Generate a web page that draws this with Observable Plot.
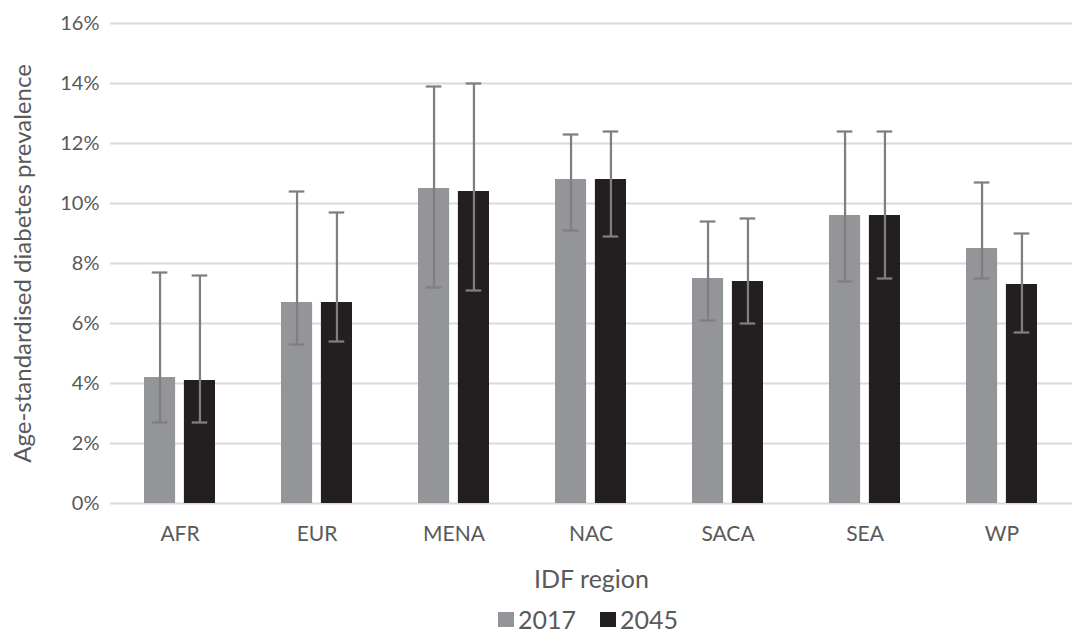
<!DOCTYPE html>
<html>
<head>
<meta charset="utf-8">
<script src="https://cdn.jsdelivr.net/npm/d3@7"></script>
<script src="https://cdn.jsdelivr.net/npm/@observablehq/plot@0.6"></script>
<style>
  html, body { margin: 0; padding: 0; background: #fff; }
  #chart svg { display: block; }
  .legend { display: flex; align-items: center; height: 24px; padding-left: 498px; font-family: Lato, sans-serif; font-size: 25px; line-height: 24px; color: #595959; }
  .legend .sw { width: 16px; height: 15px; margin-right: 4px; }
  .legend .item { display: flex; align-items: center; margin-right: 24px; }
</style>
</head>
<body>
<div id="chart"></div>
<script>
const regions = ["AFR", "EUR", "MENA", "NAC", "SACA", "SEA", "WP"];
const years = ["2017", "2045"];
const prev2017 = [4.2, 6.7, 10.5, 10.8, 7.5, 9.6, 8.5];
const low2017  = [2.7, 5.3, 7.2, 9.1, 6.1, 7.4, 7.5];
const high2017 = [7.7, 10.4, 13.9, 12.3, 9.4, 12.4, 10.7];
const prev2045 = [4.1, 6.7, 10.4, 10.8, 7.4, 9.6, 7.3];
const low2045  = [2.7, 5.4, 7.1, 8.9, 6.0, 7.5, 5.7];
const high2045 = [7.6, 9.7, 14.0, 12.4, 9.5, 12.4, 9.0];
const yTicks = [0, 2, 4, 6, 8, 10, 12, 14, 16];
const colors = {"2017": "#939598", "2045": "#231f20"};

const rows2017 = regions.map((r, i) => ({region: r, year: "2017", value: prev2017[i], lo: low2017[i], hi: high2017[i]}));
const rows2045 = regions.map((r, i) => ({region: r, year: "2045", value: prev2045[i], lo: low2045[i], hi: high2045[i]}));

const errColor = "#7f7f7f";
const errW = 2.25;
const barInset = 39.9;

const chart = Plot.plot({
  width: 1076,
  height: 607,
  marginLeft: 110,
  marginRight: 4,
  marginTop: 23,
  marginBottom: 104,
  style: {fontFamily: "Lato, sans-serif", color: "#595959", background: "#fff"},
  x: {domain: regions, paddingInner: 0.48, paddingOuter: 0.24},
  y: {domain: [0, 16], ticks: yTicks},
  marks: [
    Plot.gridY(yTicks, {stroke: "#d9d9d9", strokeOpacity: 1, strokeWidth: 2}),
    Plot.barY(rows2017, {x: "region", y: "value", fill: colors["2017"], insetRight: barInset}),
    Plot.barY(rows2045, {x: "region", y: "value", fill: colors["2045"], insetLeft: barInset}),
    Plot.ruleX(rows2017, {x: "region", y1: "lo", y2: "hi", dx: -19.95, stroke: errColor, strokeWidth: errW}),
    Plot.ruleX(rows2045, {x: "region", y1: "lo", y2: "hi", dx: 19.95, stroke: errColor, strokeWidth: errW}),
    Plot.tickY(rows2017, {x: "region", y: "lo", insetLeft: 7.75, insetRight: 47.65, stroke: errColor, strokeWidth: errW}),
    Plot.tickY(rows2017, {x: "region", y: "hi", insetLeft: 7.75, insetRight: 47.65, stroke: errColor, strokeWidth: errW}),
    Plot.tickY(rows2045, {x: "region", y: "lo", insetLeft: 47.65, insetRight: 7.75, stroke: errColor, strokeWidth: errW}),
    Plot.tickY(rows2045, {x: "region", y: "hi", insetLeft: 47.65, insetRight: 7.75, stroke: errColor, strokeWidth: errW}),
    Plot.axisY(yTicks, {tickSize: 0, tickPadding: 11, fontSize: 20, tickFormat: d => d + "%",
      label: "Age-standardised diabetes prevalence", labelAnchor: "center", labelArrow: "none", labelOffset: 97}),
    Plot.axisX({tickSize: 0, tickPadding: 23, fontSize: 21,
      label: "IDF region", labelAnchor: "center", labelArrow: "none", labelOffset: 84})
  ]
});

chart.querySelectorAll("g[aria-label='y-axis label'] text").forEach(t => t.setAttribute("font-size", 24));
chart.querySelectorAll("g[aria-label='x-axis label'] text").forEach(t => t.setAttribute("font-size", 25));

document.getElementById("chart").appendChild(chart);

const legend = document.createElement("div");
legend.className = "legend";
years.forEach(y => {
  const item = document.createElement("div");
  item.className = "item";
  const sw = document.createElement("span");
  sw.className = "sw";
  sw.style.background = colors[y];
  const label = document.createElement("span");
  label.textContent = y;
  item.appendChild(sw);
  item.appendChild(label);
  legend.appendChild(item);
});
document.body.appendChild(legend);
</script>
</body>
</html>
